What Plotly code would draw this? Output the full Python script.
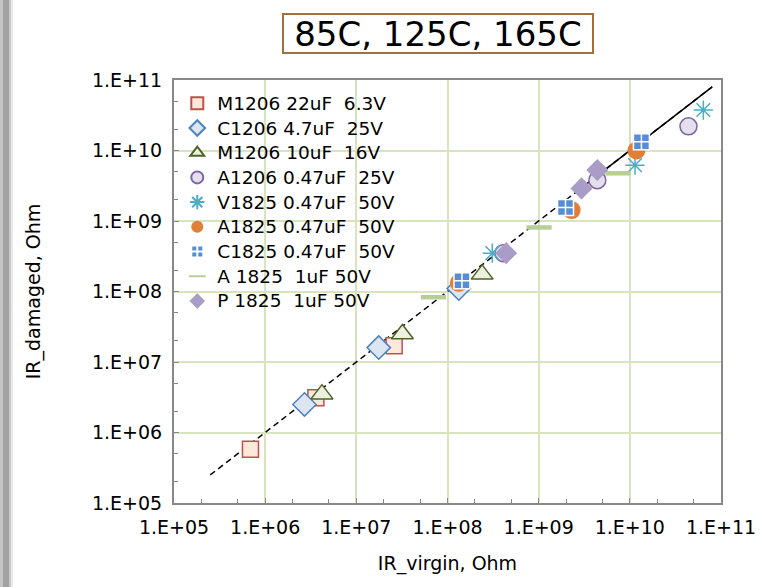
import plotly.graph_objects as go

# ---- data ----
series_names = [
    "M1206 22uF  6.3V", "C1206 4.7uF  25V", "M1206 10uF  16V", "A1206 0.47uF  25V",
    "V1825 0.47uF  50V", "A1825 0.47uF  50V", "C1825 0.47uF  50V", "A 1825  1uF 50V",
    "P 1825  1uF 50V",
]
m1206_22_x = [6.9e5, 3.6e6, 2.6e7]
m1206_22_y = [5.8e5, 3.1e6, 1.7e7]
c1206_47_x = [2.7e6, 1.76e7, 1.33e8]
c1206_47_y = [2.5e6, 1.6e7, 1.1e8]
m1206_10_x = [4.2e6, 3.2e7, 2.4e8]
m1206_10_y = [3.5e6, 2.5e7, 1.75e8]
a1206_x = [4.1e8, 4.4e9, 4.4e10]
a1206_y = [3.5e8, 3.8e9, 2.2e10]
v1825_x = [3.1e8, 1.14e10, 6.4e10]
v1825_y = [3.5e8, 6.2e9, 3.75e10]
a1825_047_x = [1.33e8, 2.3e9, 1.18e10]
a1825_047_y = [1.33e8, 1.43e9, 1.0e10]
c1825_x = [1.44e8, 1.97e9, 1.34e10]
c1825_y = [1.42e8, 1.55e9, 1.33e10]
a1825_1_x = [7.0e7, 1.01e9, 7.4e9]
a1825_1_y = [8.3e7, 8.1e8, 4.75e9]
p1825_x = [4.4e8, 2.95e9, 4.4e9]
p1825_y = [3.5e8, 2.9e9, 5.3e9]

ref_line_x = [2.5e5, 8.0e10]
ref_line_y = [2.5e5, 8.0e10]
trend_x = [3.0e9, 8.0e10]
trend_y = [3.0e9, 8.0e10]

tick_vals = [1e5, 1e6, 1e7, 1e8, 1e9, 1e10, 1e11]
tick_text = ["1.E+05", "1.E+06", "1.E+07", "1.E+08", "1.E+09", "1.E+10", "1.E+11"]

FONT = "DejaVu Sans, Liberation Sans, Arial, sans-serif"

fig = go.Figure()

fig.add_trace(go.Scatter(x=ref_line_x, y=ref_line_y, mode="lines", showlegend=False,
                         line=dict(color="black", width=1.5, dash="6px,4px"), hoverinfo="skip"))
fig.add_trace(go.Scatter(x=trend_x, y=trend_y, mode="lines", showlegend=False,
                         line=dict(color="black", width=1.5), hoverinfo="skip"))

styles = [
    (m1206_22_x, m1206_22_y, dict(symbol="square", size=16, color="#FDE9D9", line=dict(color="#C0504D", width=1.5))),
    (c1206_47_x, c1206_47_y, dict(symbol="diamond", size=18, color="#DCE6F2", line=dict(color="#4F81BD", width=1.5))),
    (m1206_10_x, m1206_10_y, dict(symbol="triangle-up", size=19, color="#EBF1DE", line=dict(color="#4F6228", width=1.5))),
    (a1206_x, a1206_y, dict(symbol="circle", size=17, color="#E4DFEC", line=dict(color="#8064A2", width=1.5))),
    (v1825_x, v1825_y, dict(symbol="asterisk-open", size=16, color="#4BACC6", line=dict(color="#4BACC6", width=1.5))),
    (a1825_047_x, a1825_047_y, dict(symbol="circle", size=18, color="#E07F35", line=dict(color="#E07F35", width=0))),
    (c1825_x, c1825_y, dict(symbol="square-cross", size=16, color="#558ED5", line=dict(color="white", width=1.5))),
    (a1825_1_x, a1825_1_y, dict(symbol="line-ew-open", size=18, color="#B7CF96", line=dict(color="#B7CF96", width=4.5))),
    (p1825_x, p1825_y, dict(symbol="diamond", size=17, color="#A99CC6", line=dict(color="#A99CC6", width=0))),
]
for name, (xs, ys, mk) in zip(series_names, styles):
    label = '<span style="font-size:18.5px">' + name.replace(" ", "\u00a0") + "</span>"
    fig.add_trace(go.Scatter(x=xs, y=ys, mode="markers", name=label, marker=mk))

axis_common = dict(
    type="log", tickvals=tick_vals, ticktext=tick_text,
    showgrid=True, gridcolor="#D7E4BD", gridwidth=1.5,
    showline=True, linecolor="#888888", linewidth=2, mirror=True,
    ticks="inside", ticklen=5, tickcolor="#888888",
    minor=dict(ticks="inside", ticklen=4, tickcolor="#888888", showgrid=False),
    tickfont=dict(family=FONT, size=19, color="black"),
    ticklabelstandoff=6,
    zeroline=False,
)

fig.update_layout(
    width=779, height=587,
    margin=dict(l=174, r=58, t=80, b=84),
    paper_bgcolor="white", plot_bgcolor="white",
    font=dict(family=FONT, color="black"),
    xaxis=dict(axis_common, range=[5, 11],
               title=dict(text="IR_virgin, Ohm", font=dict(family=FONT, size=19), standoff=20)),
    yaxis=dict(axis_common, range=[5, 11],
               title=dict(text="IR_damaged, Ohm", font=dict(family=FONT, size=19), standoff=46)),
    legend=dict(x=0.006, y=0.986, xanchor="left", yanchor="top",
                bgcolor="rgba(255,255,255,0)", borderwidth=0,
                font=dict(family=FONT, size=16.7, color="black"),
                itemsizing="constant", itemwidth=30, tracegroupgap=0),
    showlegend=True,
    annotations=[dict(text="85C, 125C, 165C", xref="paper", yref="paper",
                      x=0.4835, y=1.110, xanchor="center", yanchor="middle", showarrow=False,
                      font=dict(family=FONT, size=34, color="black"),
                      width=308, height=37,
                      bordercolor="#A0703F", borderwidth=2, borderpad=0, bgcolor="white")],
    shapes=[
        dict(type="rect", xref="paper", yref="paper", x0=-0.3181, x1=-0.3126, y0=-0.2, y1=1.2,
             fillcolor="#c4c4c4", line=dict(width=0), layer="below"),
        dict(type="rect", xref="paper", yref="paper", x0=-0.3126, x1=-0.3016, y0=-0.2, y1=1.2,
             fillcolor="#a2a2a2", line=dict(width=0), layer="below"),
        dict(type="rect", xref="paper", yref="paper", x0=-0.3016, x1=-0.2980, y0=-0.2, y1=1.2,
             fillcolor="#c8c8c8", line=dict(width=0), layer="below"),
        dict(type="rect", xref="paper", yref="paper", x0=-0.2980, x1=-0.2943, y0=-0.2, y1=1.2,
             fillcolor="#eaeaea", line=dict(width=0), layer="below"),
    ],
)

fig.write_html("out.html", config={"displayModeBar": False},
               post_script="document.body.style.margin='0';")
